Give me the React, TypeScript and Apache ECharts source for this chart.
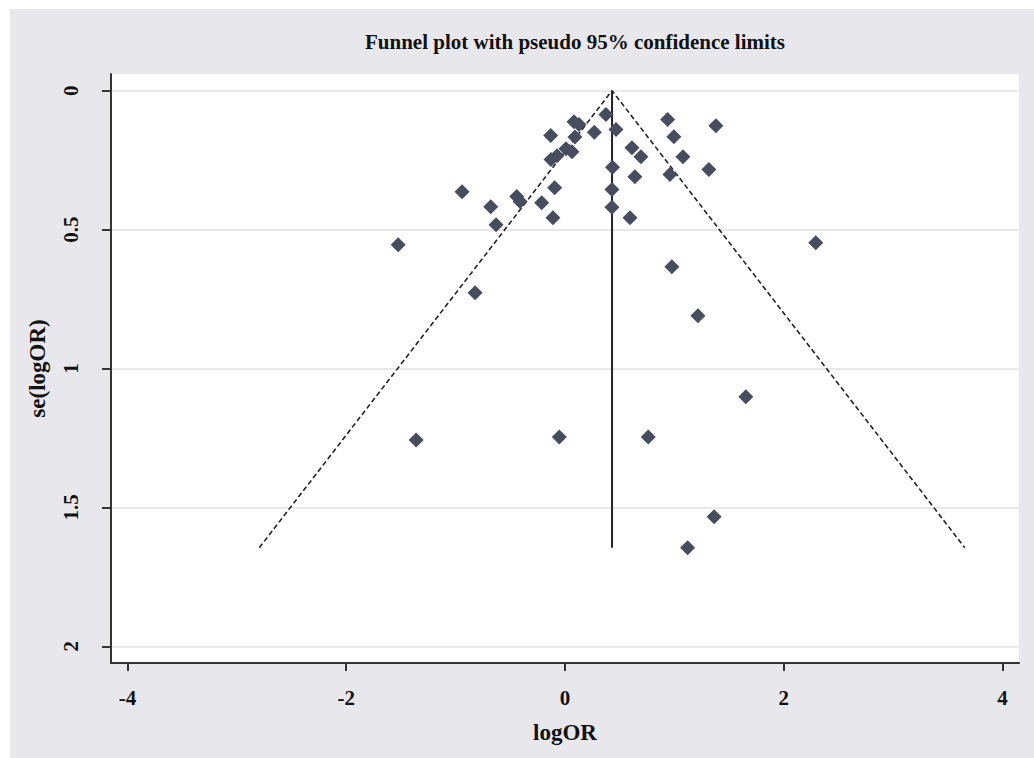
import React, { useEffect, useRef } from "react";
import * as echarts from "echarts";

const TITLE = "Funnel plot with pseudo 95% confidence limits";
const X_NAME = "logOR";
const Y_NAME = "se(logOR)";
const X_TICKS = [-4, -2, 0, 2, 4];
const Y_TICKS = [0, 0.5, 1, 1.5, 2];

const LOG_OR = [
  0.374, -0.131, 0.082, 0.128, 0.268, 0.466, 0.938, 1.379, 0.995, 0.091,
  0.009, 0.064, -0.073, -0.128, 0.612, 0.694, 1.078, 0.434, 0.639, 0.959,
  1.315, 0.429, -0.094, -0.941, -0.441, -0.411, -0.679, -0.213, 0.429, -0.11,
  0.594, -0.63, -1.525, 2.292, 0.977, -0.822, 1.215, 1.653, -1.361, -0.052,
  0.761, 1.363, 1.121,
];
const SE = [
  0.086, 0.161, 0.112, 0.122, 0.15, 0.14, 0.104, 0.126, 0.166, 0.167,
  0.209, 0.22, 0.234, 0.248, 0.205, 0.238, 0.238, 0.276, 0.31, 0.302,
  0.284, 0.356, 0.349, 0.364, 0.381, 0.399, 0.418, 0.403, 0.42, 0.457,
  0.457, 0.483, 0.555, 0.547, 0.634, 0.727, 0.81, 1.102, 1.257, 1.247,
  1.247, 1.534, 1.645,
];

const POOLED = 0.43;
const SE_MAX = 1.645;
const Z95 = 1.96;

const FONT = "'Liberation Serif', 'Times New Roman', serif";

export default function App() {
  const ref = useRef<HTMLDivElement>(null);
  useEffect(() => {
    if (!ref.current) return;
    const chart = echarts.init(ref.current, undefined, { renderer: "svg" });
    const points = LOG_OR.map((x, i) => [x, SE[i]]);
    const funnel = [
      [POOLED - Z95 * SE_MAX, SE_MAX],
      [POOLED, 0],
      [POOLED + Z95 * SE_MAX, SE_MAX],
    ];
    const center = [
      [POOLED, 0],
      [POOLED, SE_MAX],
    ];
    chart.setOption({
      animation: false,
      backgroundColor: "#ffffff",
      graphic: [
        {
          type: "rect",
          z: -10,
          silent: true,
          shape: { x: 10, y: 9, width: 1024, height: 749 },
          style: { fill: "#e8e8ec" },
        },
      ],
      title: {
        text: TITLE,
        left: 570,
        top: 26,
        textAlign: "center",
        textStyle: {
          fontFamily: FONT,
          fontWeight: "bold",
          fontSize: 21,
          color: "#111",
        },
      },
      grid: {
        left: 111,
        top: 74,
        right: 15,
        bottom: 95,
        show: true,
        backgroundColor: "#ffffff",
        borderWidth: 0,
      },
      xAxis: {
        type: "value",
        min: -4.15,
        max: 4.15,
        name: X_NAME,
        nameLocation: "middle",
        nameGap: 58,
        nameTextStyle: { fontFamily: FONT, fontWeight: "bold", fontSize: 23, color: "#111" },
        axisLine: { show: true, onZero: false, lineStyle: { color: "#333", width: 2 } },
        axisTick: { show: true, length: 8, customValues: X_TICKS, lineStyle: { color: "#333", width: 2 } },
        axisLabel: {
          customValues: X_TICKS,
          margin: 24,
          fontFamily: FONT,
          fontWeight: "bold",
          fontSize: 21,
          color: "#111",
        },
        splitLine: { show: false },
      },
      yAxis: {
        type: "value",
        inverse: true,
        min: -0.06,
        max: 2.06,
        name: Y_NAME,
        nameLocation: "middle",
        nameGap: 62,
        nameTextStyle: { fontFamily: FONT, fontWeight: "bold", fontSize: 23, color: "#111" },
        axisLine: { show: true, onZero: false, lineStyle: { color: "#333", width: 2 } },
        axisTick: { show: true, length: 9, customValues: Y_TICKS, lineStyle: { color: "#333", width: 2 } },
        axisLabel: {
          customValues: Y_TICKS,
          rotate: 90,
          margin: 30,
          fontFamily: FONT,
          fontWeight: "bold",
          fontSize: 21,
          color: "#111",
        },
        splitLine: { show: true, lineStyle: { color: "#e2e2e2", width: 1.5 } },
      },
      series: [
        {
          type: "line",
          data: funnel,
          symbol: "none",
          lineStyle: { color: "#222", width: 1.6, type: [5, 3] },
          z: 3,
        },
        {
          type: "line",
          data: center,
          symbol: "none",
          lineStyle: { color: "#222", width: 2 },
          z: 3,
        },
        {
          type: "scatter",
          data: points,
          symbol: "diamond",
          symbolSize: 15,
          itemStyle: { color: "#474d5e", opacity: 1 },
          z: 4,
        },
      ],
    });
    return () => chart.dispose();
  }, []);
  return (
    <div
      ref={ref}
      style={{ position: "absolute", left: 0, top: 0, width: 1034, height: 758 }}
    />
  );
}
